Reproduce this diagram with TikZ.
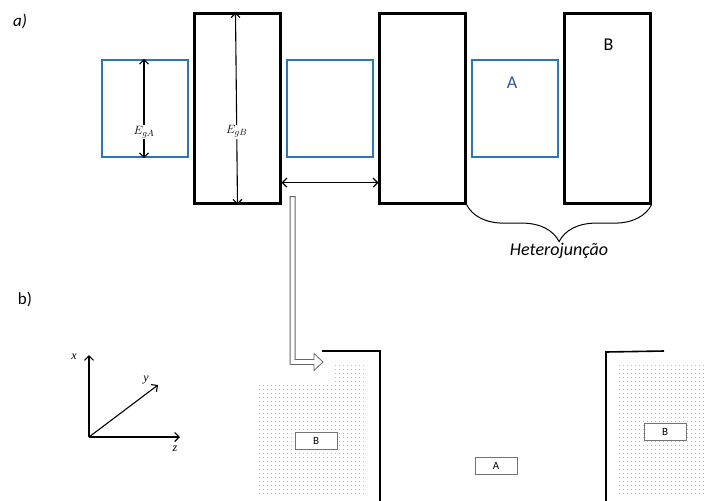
\documentclass[tikz,border=0pt]{standalone}
\usepackage{fontspec}
\setmainfont{Carlito}
\newfontfamily\axisfont{Liberation Serif}
\usetikzlibrary{arrows.meta,positioning,calc,decorations.pathreplacing,patterns.meta}
\definecolor{bandblue}{HTML}{2E75B6}
\definecolor{labblue}{HTML}{2F5597}
\definecolor{dotgray}{HTML}{7A7A7A}

\begin{document}
\begin{tikzpicture}[x=1pt, y=-1pt,
  wellA/.style={draw=bandblue, line width=2.2pt, minimum width=86pt,
                minimum height=97pt, inner sep=0pt},
  barB/.style={draw=black, line width=2.2pt, minimum width=86pt,
               minimum height=190pt, inner sep=0pt},
  layer/.style={draw=black!55, line width=0.9pt, fill=white, minimum width=42pt,
                minimum height=17pt, inner sep=0pt, font=\fontsize{11}{13}\selectfont},
  gap/.style={fill=white, inner sep=1pt, font=\fontsize{13}{15}\selectfont},
  axl/.style={inner sep=1pt, font=\axisfont\itshape\fontsize{12}{14}\selectfont},
  a/.style={-{Straight Barb[length=4.5pt,width=9pt]}, line width=1.1pt},
  aa/.style={{Straight Barb[length=4.5pt,width=9pt]}-{Straight Barb[length=4.5pt,width=9pt]},
             line width=1.1pt},
  hollow/.style={draw=black!60, line width=0.8pt, fill=white},
  dotfill/.style={pattern={Dots[distance=4pt,radius=0.45pt]}, pattern color=dotgray}]
\useasboundingbox (0,0) rectangle (705,501);

% a) band diagram
\node[font=\itshape\fontsize{17}{20}\selectfont] (pa) at (20,21) {a)};
\node[wellA] (A1) at (145,108.5) {};
\node[barB, right=4.3pt of A1] (B1) {};
\node[wellA, right=4.3pt of B1] (A2) {};
\node[barB, right=4.3pt of A2] (B2) {};
\node[wellA, right=4.3pt of B2] (A3) {};
\node[barB, right=4.3pt of A3] (B3) {};
\node[text=labblue, font=\fontsize{18}{21}\selectfont] (lA) at ($(A3.north)+(-3,24)$) {A};
\node[font=\fontsize{18}{21}\selectfont] (lB) at ($(B3.north)+(1,32)$) {B};

\draw[aa] ($(A1.north)+(-1,0)$) -- node[gap, pos=0.74] {$E_{gA}$} ($(A1.south)+(-1,0)$);
\draw[aa] ($(B1.north)+(-2,0)$) -- node[gap, pos=0.62] {$E_{gB}$} (B1.south);
\draw[aa] ($(B1.south east)+(0,-22)$) -- ($(B2.south west)+(0,-22)$);

\draw[decorate, decoration={brace, amplitude=37pt}, line width=1pt]
  (B3.south east) -- (B2.south east)
  node[midway, below=35pt, font=\itshape\fontsize{18}{21}\selectfont] (het) {Heterojunção};

% hollow arrow down to b)
\coordinate (hs) at ($(B1.south east)+(11,-8)$);
\coordinate (ht) at (323,362);
\draw[hollow] ($(hs)+(-2.5,0)$) -- ($(hs |- ht)+(-2.5,2.5)$) -- ($(ht)+(-9,2.5)$)
  -- ($(ht)+(-9,8.5)$) -- (ht) -- ($(ht)+(-9,-8.5)$) -- ($(ht)+(-9,-2.5)$)
  -- ($(hs |- ht)+(2.5,-2.5)$) -- ($(hs)+(2.5,0)$) -- cycle;

% b) layers
\node[font=\fontsize{17}{20}\selectfont] (pb) at (25,299) {b)};
\fill[dotfill] (333,363) -- (367,363) -- (367,496) -- (259,496) -- (259,383)
  -- (333,383) -- cycle;
\fill[dotfill] (618,362) rectangle (704,494);
\draw[line width=1.6pt] (322,351) -- (380,351) -- (380,501);
\draw[line width=1.6pt] (606,501) -- (606,352) -- (664,351);
\node[layer] (Bl) at (316,440.5) {B};
\node[layer] (Al) at (496,466) {A};
\node[layer] (Br) at (665,432) {B};

% axes
\coordinate (O) at (89,437);
\coordinate (xe) at (89,355);
\coordinate (ye) at (158,385);
\coordinate (ze) at (180,437);
\draw[a] (O) -- (xe);
\draw[a] (O) -- (ye);
\draw[a] (O) -- (ze);
\node[axl] (xl) at (74,357) {x};
\node[axl] (yl) at (146,380) {y};
\node[axl] (zl) at (175,449) {z};
\end{tikzpicture}
\end{document}
